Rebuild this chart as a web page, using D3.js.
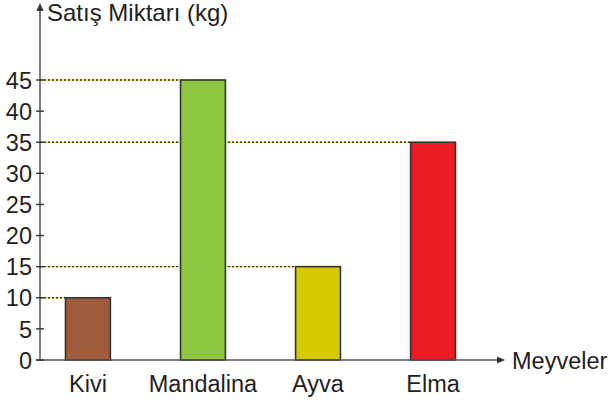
<!DOCTYPE html>
<html>
<head>
<meta charset="utf-8">
<script src="https://cdn.jsdelivr.net/npm/d3@7"></script>
<style>
  body { margin: 0; background: #fff; }
  svg text { font-family: "Liberation Sans", Arial, sans-serif; fill: #231f20; }
</style>
</head>
<body>
<svg id="chart" width="611" height="403"></svg>
<script>
const meyveler = ["Kivi", "Mandalina", "Ayva", "Elma"];
const miktarlar = [10, 45, 15, 35];
const renkler = ["#a05a3c", "#8dc63f", "#d6cb00", "#ed1c24"];
const tikler = [0, 5, 10, 15, 20, 25, 30, 35, 40, 45];

const svg = d3.select("#chart");
const eksenX = 40;
const tabanY = 360;
const yaziBoyu = 23.5;

const y = d3.scaleLinear().domain([0, 45]).range([tabanY, 80]);
const x = d3.scaleBand().domain(meyveler).range([31, 490]).paddingInner(0.61).paddingOuter(0.3);

// kesikli yardımcı çizgiler
const kesikli = svg.append("g");
meyveler.forEach((m, i) => {
  const yy = y(miktarlar[i]);
  kesikli.append("line")
    .attr("x1", eksenX).attr("x2", x(m)).attr("y1", yy).attr("y2", yy)
    .attr("stroke", "#f2e24a").attr("stroke-width", 1.4);
  kesikli.append("line")
    .attr("x1", eksenX).attr("x2", x(m)).attr("y1", yy).attr("y2", yy)
    .attr("stroke", "#333").attr("stroke-width", 1.4)
    .attr("stroke-dasharray", "2,2");
});

// çubuklar
svg.append("g").selectAll("rect")
  .data(meyveler)
  .join("rect")
  .attr("x", d => x(d))
  .attr("width", x.bandwidth())
  .attr("y", (d, i) => y(miktarlar[i]))
  .attr("height", (d, i) => tabanY - y(miktarlar[i]))
  .attr("fill", (d, i) => renkler[i])
  .attr("stroke", "#333")
  .attr("stroke-width", 1.6);

// eksenler
svg.append("line").attr("x1", eksenX).attr("x2", eksenX).attr("y1", tabanY).attr("y2", 8)
  .attr("stroke", "#555").attr("stroke-width", 1.5);
svg.append("path").attr("d", `M${eksenX - 3.5},11 L${eksenX},3 L${eksenX + 3.5},11 Z`).attr("fill", "#333");

svg.append("line").attr("x1", eksenX - 4).attr("x2", 499).attr("y1", tabanY).attr("y2", tabanY)
  .attr("stroke", "#555").attr("stroke-width", 1.5);
svg.append("path").attr("d", `M497,${tabanY - 3.5} L505,${tabanY} L497,${tabanY + 3.5} Z`).attr("fill", "#333");

// y tikleri
const yTik = svg.append("g");
tikler.forEach(t => {
  yTik.append("line").attr("x1", eksenX - 4).attr("x2", eksenX + 4).attr("y1", y(t)).attr("y2", y(t))
    .attr("stroke", "#333").attr("stroke-width", 1.4);
  yTik.append("text").attr("x", 32).attr("y", y(t)).attr("dy", "0.37em")
    .attr("text-anchor", "end").attr("font-size", yaziBoyu).text(t);
});

// kategori etiketleri
svg.append("g").selectAll("text")
  .data(meyveler)
  .join("text")
  .attr("x", d => x(d) + x.bandwidth() / 2)
  .attr("y", 392)
  .attr("text-anchor", "middle")
  .attr("font-size", yaziBoyu)
  .text(d => d);

svg.append("text").attr("x", 47).attr("y", 21).attr("font-size", 24).text("Satış Miktarı (kg)");
svg.append("text").attr("x", 512).attr("y", tabanY).attr("dy", "0.37em").attr("font-size", yaziBoyu).text("Meyveler");
</script>
</body>
</html>
